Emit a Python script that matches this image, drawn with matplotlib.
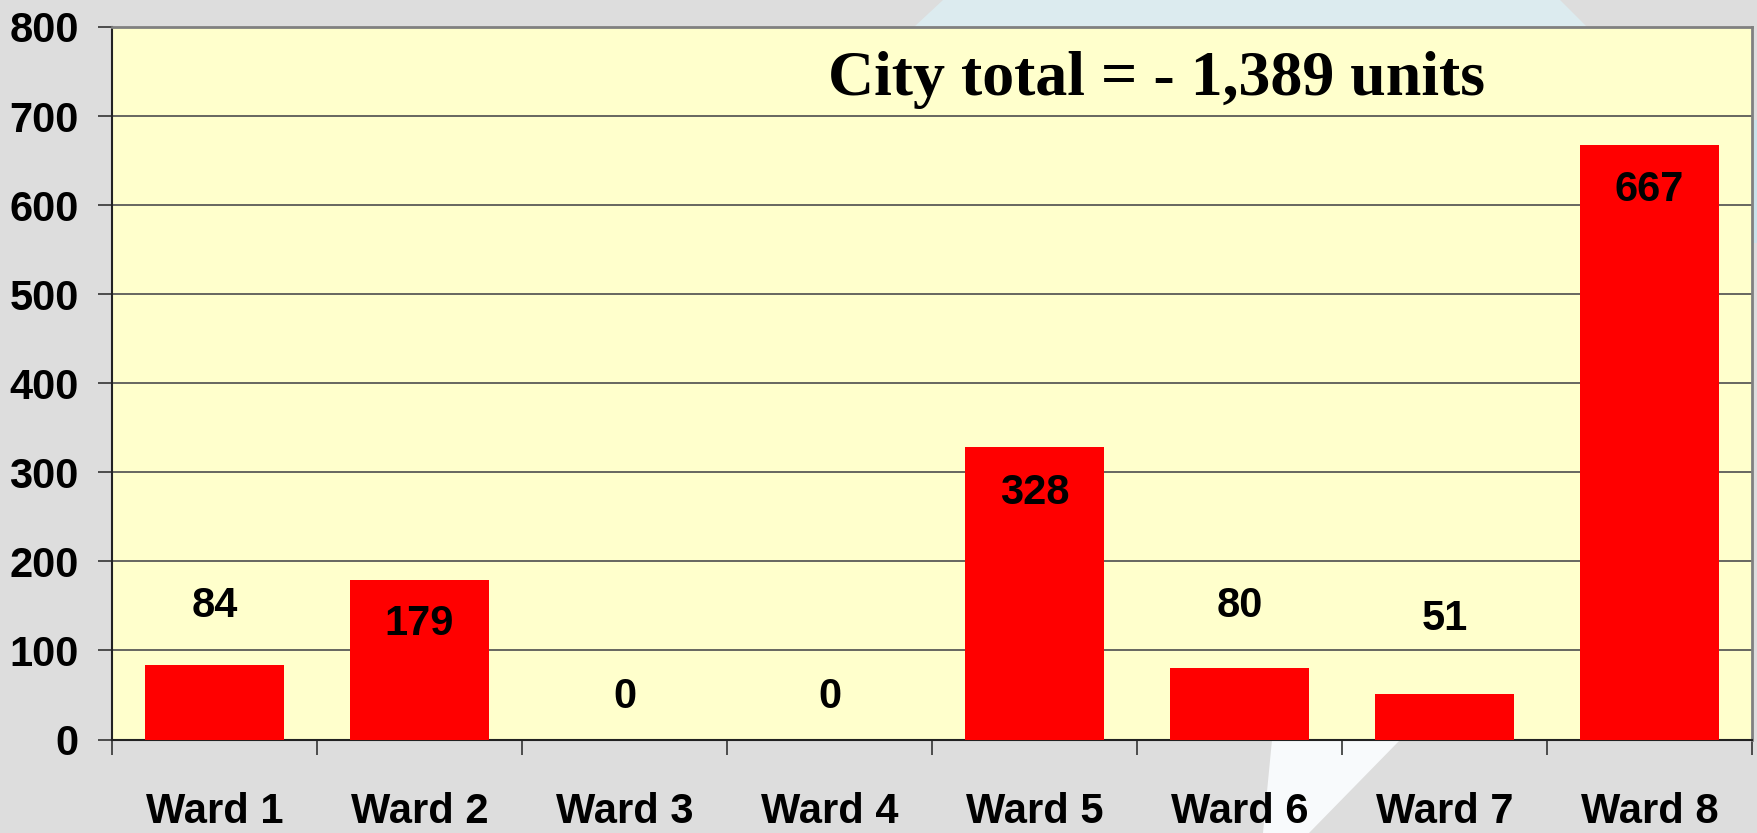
import matplotlib
matplotlib.use("Agg")
import matplotlib.pyplot as plt
from matplotlib.patches import Polygon
import numpy as np

# ---- data ----
wards = ["Ward 1", "Ward 2", "Ward 3", "Ward 4", "Ward 5", "Ward 6", "Ward 7", "Ward 8"]
units = [84, 179, 0, 0, 328, 80, 51, 667]
title_text = "City total = - 1,389 units"
y_ticks = [0, 100, 200, 300, 400, 500, 600, 700, 800]

# label placement offsets (data units) relative to bar top
label_offsets = [66, -49, 48, 48, -51, 70, 84, -50]

W, H = 1757, 833
fig = plt.figure(figsize=(W / 100, H / 100), dpi=100)
fig.patch.set_facecolor("#DDDDDD")

def px(x, y):
    return (x / W, 1 - y / H)

# background decorations (slide design)
fig.patches.append(Polygon([px(914, 27), px(943, 0), px(1560, 0), px(1587, 27)],
                           closed=True, transform=fig.transFigure,
                           facecolor="#DCEBEF", edgecolor="none", zorder=-2))
fig.patches.append(Polygon([px(1752, 120), px(1757, 120), px(1757, 243), px(1752, 243)],
                           closed=True, transform=fig.transFigure,
                           facecolor="#C9E2EA", edgecolor="none", zorder=-2))
fig.patches.append(Polygon([px(1272, 740), px(1400, 740), px(1309, 833), px(1263, 833)],
                           closed=True, transform=fig.transFigure,
                           facecolor="#F8FAFC", edgecolor="none", zorder=-2))

ax = fig.add_axes([112 / W, 1 - 739.5 / H, (1752 - 112) / W, (739.5 - 27) / H])
ax.set_zorder(1)
ax.set_facecolor("#FFFFCC")

sans = ["Liberation Sans", "DejaVu Sans"]
serif = ["Liberation Serif", "DejaVu Serif"]
fs = 30

x = np.arange(len(wards))
ax.bar(x, units, width=0.68, color="#FF0000", edgecolor="none", zorder=3)

ax.set_xlim(-0.5, len(wards) - 0.5)
ax.set_ylim(0, 800)
ax.set_yticks(y_ticks)
ax.set_yticklabels([str(v) for v in y_ticks], fontsize=fs, fontweight="bold", family=sans)
ax.yaxis.grid(True, color="#4D4D4D", linewidth=1.2, zorder=1)
ax.set_axisbelow(True)
ax.tick_params(axis="y", direction="out", length=10, width=1.2, color="#333333", pad=14)

ax.set_xticks(x)
ax.set_xticklabels(wards, fontsize=fs, fontweight="bold", family=sans)
ax.tick_params(axis="x", which="major", length=0, pad=38)
ax.set_xticks(np.arange(-0.5, len(wards), 1.0), minor=True)
ax.tick_params(axis="x", which="minor", direction="out", length=11, width=1.2, color="#333333")

for s in ["left", "bottom"]:
    ax.spines[s].set_color("#222222")
    ax.spines[s].set_linewidth(1.5)
for s in ["top", "right"]:
    ax.spines[s].set_color("#808080")
    ax.spines[s].set_linewidth(2)

for xi, v, off in zip(x, units, label_offsets):
    ax.text(xi, v + off, str(v), ha="center", va="center", fontsize=fs,
            fontweight="bold", family=sans, zorder=4)

fig.text(1157 / W, 1 - 95 / H, title_text, ha="center", va="baseline",
         fontsize=46, fontweight="bold", family=serif, zorder=5)

fig.savefig("out.png", dpi=100, facecolor=fig.get_facecolor())
